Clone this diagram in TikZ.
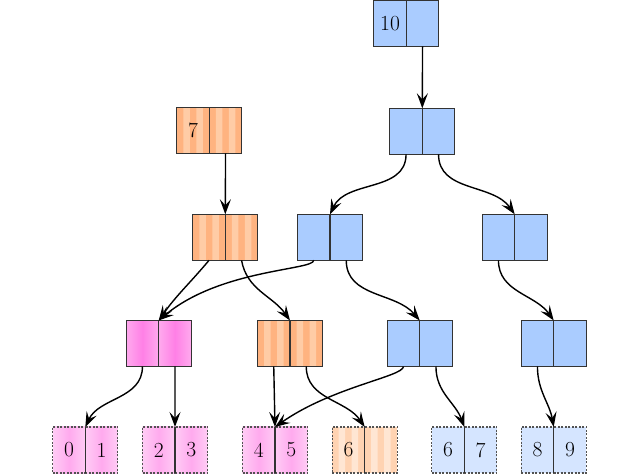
\documentclass[tikz,border=0pt]{standalone}
\usepackage{tikz}
\usetikzlibrary{positioning,arrows.meta}
\definecolor{bluecell}{HTML}{AACCFF}
\definecolor{blueleaf}{HTML}{D5E5FF}
\definecolor{orangedark}{HTML}{FFB380}
\definecolor{orangelight}{HTML}{FFCCA6}
\definecolor{orangeleaf}{HTML}{FFD3B2}
\definecolor{orangeleaflight}{HTML}{FFE6D3}
\definecolor{pinkedge}{HTML}{FFAAEE}
\definecolor{pinkmid}{HTML}{FF80E6}
\definecolor{pinkleafedge}{HTML}{FFCCF5}
\definecolor{pinkleafmid}{HTML}{FFAAEE}
\definecolor{cellline}{HTML}{333333}

\begin{document}
\begin{tikzpicture}[x=1pt,y=1pt,
  cell/.style={draw=cellline,line width=1.3pt,minimum width=32.5pt,minimum height=46pt,inner sep=0pt,outer sep=0pt,font=\fontsize{21.5}{26}\selectfont},
  leaf/.style={cell,draw=cellline!85,line width=1.1pt,dash pattern=on 2pt off 1.5pt},
  bluebox/.style={fill=bluecell},
  blueleaf/.style={fill=blueleaf},
  pinkbox/.style={left color=pinkedge,right color=pinkedge,middle color=pinkmid},
  pinkleaf/.style={left color=pinkleafedge,right color=pinkleafedge,middle color=pinkleafmid},
  stripes/.style 2 args={fill=#1,path picture={\fill[#2] \foreach \i in {0,1} {([xshift=6.5pt+\i*13pt]path picture bounding box.south west) rectangle ++(6.5pt,46pt)};}},
  orangebox/.style={stripes={orangedark}{orangelight}},
  orangeleaf/.style={stripes={orangeleaf}{orangeleaflight}},
  ptr/.style={-{Stealth[length=15pt,width=11pt,inset=6pt]},line width=1.4pt},
  divider/.style={draw=cellline,line width=1.3pt}]
\useasboundingbox (0,0) rectangle (640,474);

\node[cell,bluebox,anchor=east] (rl) at (406.3,450.7) {10};
\node[cell,bluebox,right=0pt of rl] (rr) {};

\node[cell,bluebox,anchor=east] (al) at (422.3,342.7) {};
\node[cell,bluebox,right=0pt of al] (ar) {};

\node[cell,orangebox,anchor=east] (sl) at (209.3,343.7) {7};
\node[cell,orangebox,right=0pt of sl] (sr) {};

\node[cell,orangebox,anchor=east] (b1l) at (225.3,236.7) {};
\node[cell,orangebox,right=0pt of b1l] (b1r) {};
\node[cell,bluebox,anchor=east] (b2l) at (330,236.7) {};
\node[cell,bluebox,right=0pt of b2l] (b2r) {};
\node[cell,bluebox,anchor=east] (b3l) at (514.7,236.7) {};
\node[cell,bluebox,right=0pt of b3l] (b3r) {};

\node[cell,pinkbox,anchor=east] (c1l) at (158.7,130.5) {};
\node[cell,pinkbox,right=0pt of c1l] (c1r) {};
\node[cell,orangebox,anchor=east] (c2l) at (290,130.5) {};
\node[cell,orangebox,right=0pt of c2l] (c2r) {};
\node[cell,bluebox,anchor=east] (c3l) at (419.7,130.5) {};
\node[cell,bluebox,right=0pt of c3l] (c3r) {};
\node[cell,bluebox,anchor=east] (c4l) at (553.7,130.5) {};
\node[cell,bluebox,right=0pt of c4l] (c4r) {};

\node[leaf,pinkleaf,anchor=east] (d1l) at (85.3,24) {0};
\node[leaf,pinkleaf,right=0pt of d1l] (d1r) {1};
\node[leaf,pinkleaf,anchor=east] (d2l) at (175,24) {2};
\node[leaf,pinkleaf,right=0pt of d2l] (d2r) {3};
\node[leaf,pinkleaf,anchor=east] (d3l) at (275,24) {4};
\node[leaf,pinkleaf,right=0pt of d3l] (d3r) {5};
\node[leaf,orangeleaf,anchor=east] (d4l) at (364.7,24) {6};
\node[leaf,orangeleaf,right=0pt of d4l] (d4r) {};
\node[leaf,blueleaf,anchor=east] (d5l) at (464.3,24) {6};
\node[leaf,blueleaf,right=0pt of d5l] (d5r) {7};
\node[leaf,blueleaf,anchor=east] (d6l) at (553.7,24) {8};
\node[leaf,blueleaf,right=0pt of d6l] (d6r) {9};
\foreach \n in {d1l,d2l,d3l,d4l,d5l,d6l}
  \draw[divider] (\n.north east) -- (\n.south east);

\draw[ptr] (rr.south) -- (al.north east);
\draw[ptr] (sr.south) -- (b1l.north east);
\draw[ptr] (al.south) to[out=-90,in=65] (b2l.north east);
\draw[ptr] (ar.south) to[out=-90,in=125] (b3l.north east);
\draw[ptr] (b1l.south) to[out=-130,in=55] (c1l.north east);
\draw[ptr] (b1r.south) to[out=-80,in=125] (c2l.north east);
\draw[ptr] (b2l.south) to[out=-90,in=40,out distance=10pt,in distance=80pt] (c1l.north east);
\draw[ptr] (b2r.south) to[out=-90,in=130] (c3l.north east);
\draw[ptr] (b3l.south) to[out=-90,in=125] (c4l.north east);
\draw[ptr] (c1l.south) to[out=-90,in=65] (d1l.north east);
\draw[ptr] (c1r.south) -- (d2l.north east);
\draw[ptr] (c2l.south) -- (d3l.north east);
\draw[ptr] (c2r.south) to[out=-90,in=124] (d4l.north east);
\draw[ptr] (c3l.south) to[out=-90,in=35,out distance=10pt,in distance=70pt] (d3l.north east);
\draw[ptr] (c3r.south) to[out=-90,in=110] (d5l.north east);
\draw[ptr] (c4l.south) to[out=-90,in=100] (d6l.north east);
\end{tikzpicture}
\end{document}
